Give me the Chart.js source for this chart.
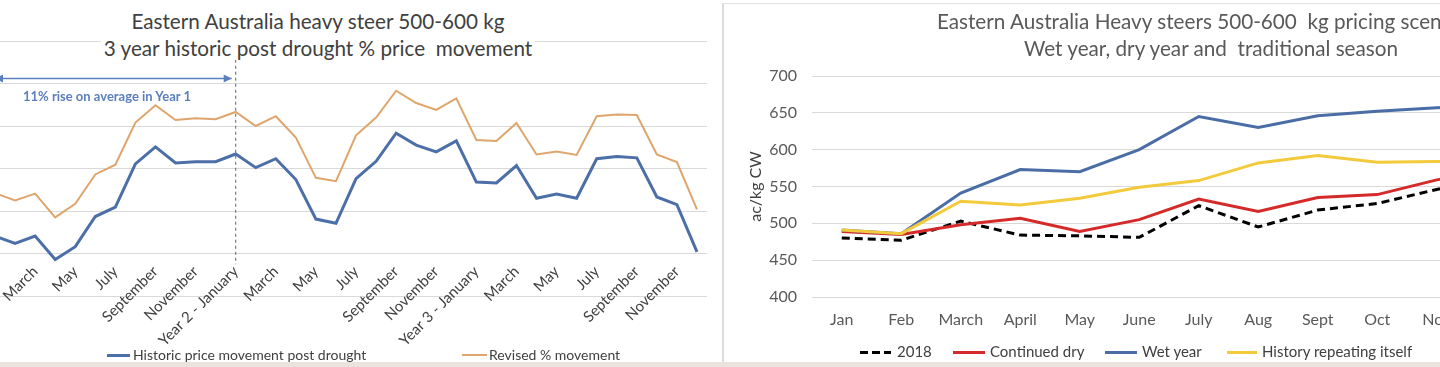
<!DOCTYPE html>
<html>
<head>
<meta charset="utf-8">
<script src="https://cdn.jsdelivr.net/npm/chart.js@4.4.1/dist/chart.umd.min.js"></script>
<style>
  body { margin: 0; width: 1440px; height: 367px; overflow: hidden; position: relative; background: #fff; font-family: Lato, sans-serif; }
  canvas { position: absolute; }
  .title { position: absolute; white-space: pre; color: #404040; font-size: 20.7px; line-height: 22px; text-align: center; }
  .title span { background: #fff; padding: 0 3px; }
  .key { position: absolute; white-space: pre; color: #404040; font-size: 14px; line-height: 16px; }
  .sw { position: absolute; height: 3px; }
  .note { position: absolute; white-space: pre; color: #5b7fba; font-size: 13px; font-weight: bold; line-height: 14px; }
</style>
</head>
<body>
<canvas id="left" width="727" height="390" style="left:-15px; top:0"></canvas>
<canvas id="right" width="794" height="367" style="left:742px; top:0"></canvas>

<!-- left panel text -->
<div class="title" style="left:0; width:636px; top:10px"><span>Eastern Australia heavy steer 500-600 kg</span></div>
<div class="title" style="left:0; width:636px; top:37px"><span>3 year historic post drought % price  movement</span></div>
<div class="note" style="left:23px; top:89px">11% rise on average in Year 1</div>
<div class="sw" style="left:107px; width:23px; top:354px; background:#4c6fa8"></div>
<div class="key" style="left:133px; top:347px">Historic price movement post drought</div>
<div class="sw" style="left:462px; width:25px; top:354px; height:2px; background:#dea56c"></div>
<div class="key" style="left:489px; top:347px">Revised % movement</div>

<!-- right panel frame + text -->
<div style="position:absolute; left:722px; top:3px; width:2px; height:359px; background:#dcdcdc"></div>
<div style="position:absolute; left:722px; top:3px; width:718px; height:1px; background:#e3e3e3"></div>
<div class="title" style="left:811px; width:800px; top:10px; color:#595959">Eastern Australia Heavy steers 500-600  kg pricing scenarios</div>
<div class="title" style="left:811px; width:800px; top:37px; color:#595959">Wet year, dry year and  traditional season</div>
<div class="sw" style="left:860px; width:31px; top:351px; background:repeating-linear-gradient(90deg,#000 0 8px,transparent 8px 12px)"></div>
<div class="key" style="left:897px; top:343px; font-size:15px">2018</div>
<div class="sw" style="left:953px; width:32px; top:351px; background:#d42a2a"></div>
<div class="key" style="left:990px; top:343px; font-size:15px">Continued dry</div>
<div class="sw" style="left:1105px; width:32px; top:351px; background:#4a6da6"></div>
<div class="key" style="left:1142px; top:343px; font-size:15px">Wet year</div>
<div class="sw" style="left:1227px; width:30px; top:351px; background:#f2ca3c"></div>
<div class="key" style="left:1262px; top:343px; font-size:15px">History repeating itself</div>

<div style="position:absolute; left:0; top:362px; width:1440px; height:5px; background:#e9e5de"></div>

<script>
// left chart: 3 years of months, % movement
const yearLabels = [
  "Year 1 - January", "February", "March", "April", "May", "June", "July", "August", "September", "October", "November", "December",
  "Year 2 - January", "February", "March", "April", "May", "June", "July", "August", "September", "October", "November", "December",
  "Year 3 - January", "February", "March", "April", "May", "June", "July", "August", "September", "October", "November", "December"
];
const historic = [
  4.1, 2.4, 4.1, -1.4, 1.6, 8.7, 10.9, 21.1, 25.1, 21.3, 21.6, 21.6,
  23.4, 20.2, 22.3, 17.4, 8.1, 7.1, 17.6, 21.7, 28.3, 25.5, 23.9, 26.5,
  16.8, 16.6, 20.7, 13.0, 14.0, 13.0, 22.3, 22.8, 22.5, 13.3, 11.5, 0.4
];
const revised = [
  14.2, 12.5, 14.1, 8.5, 11.7, 18.6, 20.9, 30.8, 34.9, 31.4, 31.8, 31.6,
  33.3, 30.0, 32.3, 27.3, 17.8, 17.0, 27.8, 32.0, 38.3, 35.4, 33.8, 36.5,
  26.7, 26.5, 30.7, 23.3, 24.0, 23.2, 32.3, 32.7, 32.6, 23.3, 21.5, 10.4
];

// right chart: pricing scenarios, ac/kg CW
const months = ["Jan", "Feb", "March", "April", "May", "June", "July", "Aug", "Sept", "Oct", "Nov", "Dec"];
const y2018 = [480, 477, 503, 484, 483, 481, 524, 495, 518, 527, 546, 562];
const continuedDry = [489, 485, 498, 507, 489, 505, 533, 516, 535, 539, 559, 572];
const wetYear = [491, 486, 541, 573, 570, 600, 645, 630, 646, 652, 657, 660];
const historyRepeating = [491, 486, 530, 525, 534, 549, 558, 582, 592, 583, 584, 585];

// dashed marker at Year 2 and the arrow over year 1
const yearMarks = {
  id: "yearMarks",
  beforeDatasetsDraw(chart) {
    const { ctx, scales: { x, y } } = chart;
    const xs = x.getPixelForValue(12);
    ctx.save();
    ctx.strokeStyle = "#56657e";
    ctx.lineWidth = 1;
    ctx.setLineDash([3, 3]);
    ctx.beginPath();
    ctx.moveTo(xs, y.getPixelForValue(47));
    ctx.lineTo(xs, y.getPixelForValue(-2.5));
    ctx.stroke();

    const ay = Math.round(y.getPixelForValue(41.3)) + 0.5;
    const x0 = x.getPixelForValue(0);
    const x1 = xs - 4;
    ctx.setLineDash([]);
    ctx.strokeStyle = ctx.fillStyle = "#5b7fba";
    ctx.lineWidth = 1.5;
    ctx.beginPath();
    ctx.moveTo(x0, ay);
    ctx.lineTo(x1, ay);
    ctx.stroke();
    [[x1, -1], [x0, 1]].forEach(([px, d]) => {
      ctx.beginPath();
      ctx.moveTo(px, ay);
      ctx.lineTo(px + d * 8, ay - 4);
      ctx.lineTo(px + d * 8, ay + 4);
      ctx.closePath();
      ctx.fill();
    });
    ctx.restore();
  }
};

new Chart(document.getElementById("left"), {
  type: "line",
  data: {
    labels: yearLabels,
    datasets: [
      { label: "Historic price movement post drought", data: historic, borderColor: "#4c6fa8", borderWidth: 3, pointRadius: 0, tension: 0, order: 2 },
      { label: "Revised % movement", data: revised, borderColor: "#dea56c", borderWidth: 2, pointRadius: 0, tension: 0, order: 1 }
    ]
  },
  options: {
    responsive: false,
    animation: false,
    layout: { autoPadding: false, padding: { top: 41, right: 5, bottom: 94, left: 0 } },
    plugins: { legend: { display: false }, tooltip: { enabled: false } },
    scales: {
      x: {
        position: { y: 0 },
        offset: true,
        grid: { display: false, drawTicks: false },
        border: { display: false },
        ticks: {
          autoSkip: false, maxRotation: 45, minRotation: 45, padding: 9,
          color: "#404040", font: { family: "Lato", size: 15 },
          callback: (v, i) => (i % 2 === 0 ? yearLabels[i] : "")
        },
        afterFit: s => { s.height = 0; s.paddingLeft = 0; s.paddingRight = 0; }
      },
      y: {
        min: -10, max: 50,
        ticks: { display: false, stepSize: 10 },
        grid: { color: "#d9d9d9", drawTicks: false },
        border: { display: false },
        afterFit: s => { s.width = 0; }
      }
    }
  },
  plugins: [yearMarks]
});

new Chart(document.getElementById("right"), {
  type: "line",
  data: {
    labels: months,
    datasets: [
      { label: "2018", data: y2018, borderColor: "#000000", borderWidth: 3, borderDash: [8, 5], pointRadius: 0, tension: 0, order: 4 },
      { label: "Continued dry", data: continuedDry, borderColor: "#d42a2a", borderWidth: 3, pointRadius: 0, tension: 0, order: 3 },
      { label: "Wet year", data: wetYear, borderColor: "#4a6da6", borderWidth: 3, pointRadius: 0, tension: 0, order: 2 },
      { label: "History repeating itself", data: historyRepeating, borderColor: "#f2ca3c", borderWidth: 3, pointRadius: 0, tension: 0, order: 1 }
    ]
  },
  options: {
    responsive: false,
    animation: false,
    layout: { autoPadding: false, padding: { top: 76, right: 10, bottom: 0, left: 0 } },
    plugins: { legend: { display: false }, tooltip: { enabled: false } },
    scales: {
      x: {
        offset: true,
        grid: { display: false, drawTicks: false },
        border: { display: false },
        ticks: { maxRotation: 0, padding: 13, color: "#595959", font: { family: "Lato", size: 16 } },
        afterFit: s => { s.height = 70; s.paddingLeft = 0; s.paddingRight = 0; }
      },
      y: {
        min: 400, max: 700,
        ticks: { stepSize: 50, padding: 15, color: "#595959", font: { family: "Lato", size: 16 } },
        grid: { color: "#d9d9d9", drawTicks: false },
        border: { display: false },
        title: { display: true, text: "ac/kg CW", color: "#404040", font: { family: "Lato", size: 16 } },
        afterFit: s => { s.width = 70; }
      }
    }
  }
});
</script>
</body>
</html>
